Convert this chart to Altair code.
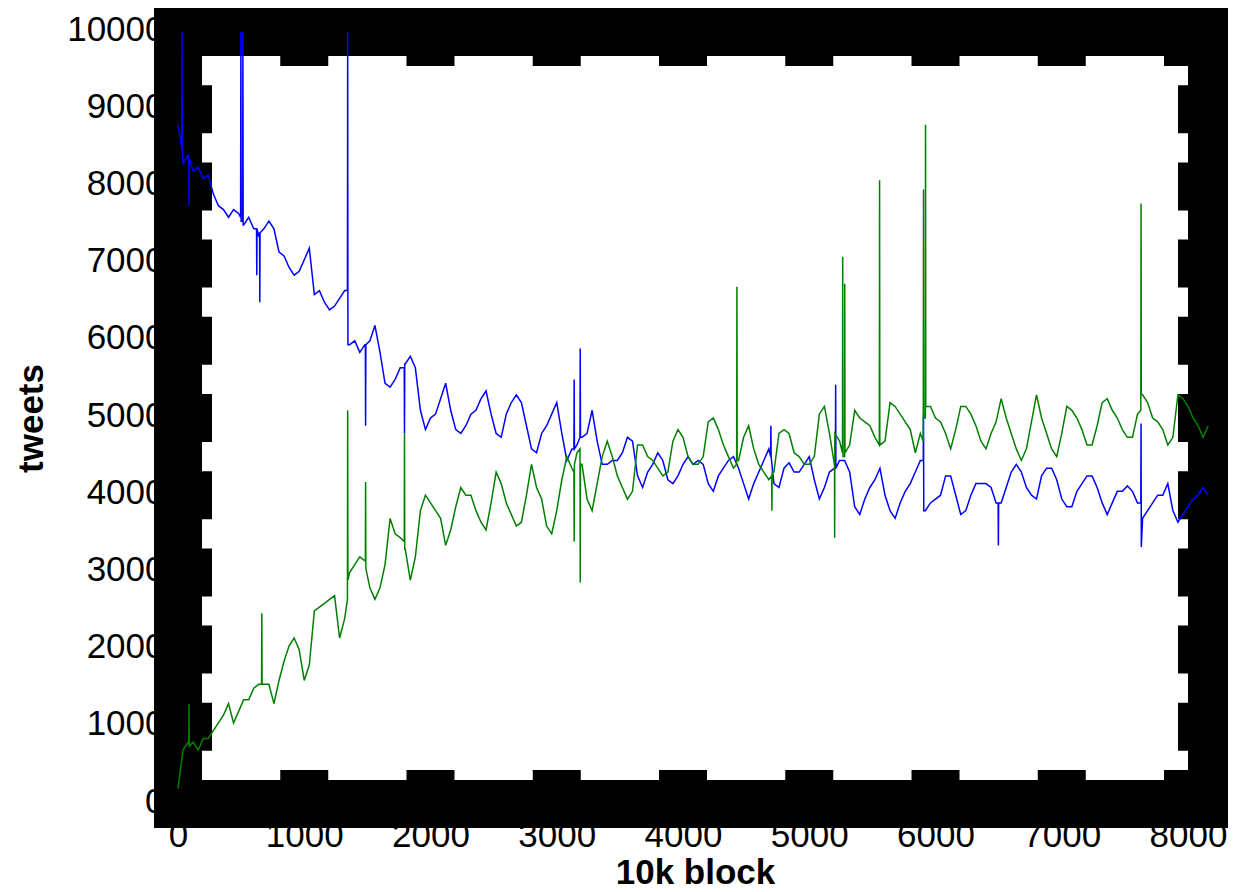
import altair as alt
import pandas as pd

# ---- data (x in "10k block", y in tweets) ----
STEP = 40  # sampling interval of the hand-read base series (blocks)

BLUE = [
    8800, 8300, 8400, 8200, 8250, 8100, 8150, 7900, 7750, 7700,
    7600, 7700, 7650, 7500, 7600, 7450, 7350, 7450, 7550, 7450,
    7150, 7100, 6950, 6850, 6900, 7050, 7200, 6600, 6650, 6500,
    6400, 6450, 6550, 6650, 5950, 6000, 5850, 5950, 6000, 6200,
    5850, 5450, 5400, 5500, 5650, 5700, 5800, 5650, 5100, 4850,
    5000, 5050, 5250, 5450, 5100, 4850, 4800, 4900, 5050, 5100,
    5250, 5350, 5050, 4800, 4750, 5050, 5200, 5300, 5200, 4900,
    4600, 4550, 4800, 4900, 5050, 5200, 4800, 4450, 4600, 4650,
    4750, 4800, 5100, 4700, 4400, 4400, 4450, 4450, 4550, 4750,
    4700, 4250, 4100, 4300, 4400, 4550, 4450, 4200, 4150, 4250,
    4400, 4500, 4400, 4450, 4400, 4150, 4050, 4250, 4350, 4450,
    4500, 4350, 4150, 3950, 4150, 4300, 4450, 4600, 4150, 4100,
    4350, 4420, 4300, 4300, 4400, 4500, 4200, 3950, 4100, 4300,
    4350, 4450, 4450, 4300, 3850, 3750, 3950, 4100, 4200, 4350,
    4000, 3800, 3700, 3900, 4050, 4150, 4300, 4450, 3800, 3900,
    3950, 4000, 4250, 4250, 4000, 3750, 3800, 4000, 4150, 4150,
    4150, 4100, 3900, 3900, 4100, 4300, 4400, 4300, 4100, 4000,
    3950, 4250, 4350, 4350, 4200, 3950, 3850, 3850, 4050, 4150,
    4250, 4250, 4100, 3900, 3750, 3900, 4050, 4050, 4120, 4050,
    3900, 3700, 3800, 3900, 4000, 4000, 4150, 3800, 3650, 3750,
    3850, 3950, 4000, 4100, 4000,
]

GREEN = [
    200, 700, 800, 800, 700, 850, 850, 950, 1050, 1150,
    1300, 1050, 1200, 1350, 1350, 1500, 1550, 1550, 1550, 1300,
    1600, 1850, 2050, 2150, 2000, 1600, 1800, 2500, 2550, 2600,
    2650, 2700, 2150, 2400, 3000, 3100, 3200, 3150, 2800, 2650,
    2800, 3100, 3700, 3500, 3450, 3300, 2900, 3200, 3800, 4000,
    3900, 3800, 3700, 3350, 3550, 3850, 4100, 4000, 4000, 3800,
    3650, 3550, 3900, 4300, 4150, 3900, 3750, 3600, 3650, 4000,
    4400, 4100, 3950, 3600, 3500, 3800, 4200, 4500, 4350, 4550,
    4400, 3950, 3800, 4150, 4500, 4700, 4500, 4250, 4100, 3950,
    4050, 4650, 4650, 4500, 4450, 4350, 4250, 4300, 4700, 4850,
    4750, 4500, 4400, 4400, 4500, 4950, 5000, 4850, 4650, 4500,
    4350, 4450, 4750, 4900, 4600, 4400, 4300, 4200, 4300, 4800,
    4850, 4800, 4550, 4500, 4400, 4400, 4500, 5050, 5150, 4800,
    4400, 4700, 4500, 4650, 5100, 5000, 4950, 4900, 4750, 4650,
    4700, 5200, 5150, 5050, 4950, 4850, 4550, 4800, 5100, 5150,
    5000, 4950, 4800, 4600, 4850, 5150, 5150, 5050, 4900, 4700,
    4600, 4800, 4950, 5250, 5000, 4800, 4600, 4450, 4600, 4950,
    5300, 5000, 4800, 4600, 4500, 4800, 5150, 5100, 5000, 4850,
    4650, 4650, 4900, 5200, 5250, 5100, 5000, 4850, 4750, 4750,
    5050, 5300, 5200, 5000, 4950, 4850, 4650, 4750, 5300, 5250,
    5150, 5000, 4900, 4750, 4900,
]

# single-block spikes: position, level just before, spike value, level just after
BLUE_SPK_X = [32, 87, 498, 514, 624, 648, 1344, 1486, 1794, 3138, 3186, 4696, 5209, 5905, 6498, 7628]
BLUE_SPK_PRE = [8500, 8350, 7600, 7550, 7450, 7400, 6650, 5950, 5650, 4600, 4750, 4500, 4350, 4450, 3900, 3900]
BLUE_SPK_VAL = [10000, 7750, 10000, 10000, 6850, 6500, 10000, 4900, 4800, 5500, 5900, 4900, 5430, 5050, 3350, 4930]
BLUE_SPK_POST = [8450, 8350, 7550, 7500, 7450, 7400, 5950, 5950, 5700, 4600, 4750, 4500, 4350, 3800, 3900, 3330]

GREEN_SPK_X = [87, 664, 1344, 1486, 1794, 3138, 3186, 4427, 4704, 5201, 5265, 5281, 5557, 5905, 5921, 7628]
GREEN_SPK_PRE = [800, 1550, 2650, 3150, 3400, 4300, 4600, 4400, 4250, 4400, 4550, 4500, 4650, 4700, 5000, 5100]
GREEN_SPK_VAL = [1300, 2470, 5100, 4170, 4800, 3400, 2870, 6700, 3800, 3450, 7090, 6740, 8080, 7960, 8800, 7780]
GREEN_SPK_POST = [750, 1550, 2900, 3050, 3300, 4400, 4400, 4450, 4300, 4800, 4500, 4550, 4700, 5000, 5150, 5300]

SERIES = ["series 1", "series 2"]
COLORS = ["#0000ff", "#008000"]

X_TICKS = [0, 1000, 2000, 3000, 4000, 5000, 6000, 7000, 8000]
Y_TICKS = [0, 1000, 2000, 3000, 4000, 5000, 6000, 7000, 8000, 9000, 10000]
X_MAX = 8190
Y_MAX = 10000

W, H = 1034, 772
TICK_LEN = 34
SPINE_W = 48
FONT = "Liberation Sans"


def build(name, vals, sx, pre, val, post):
    rows = [(i * STEP, v) for i, v in enumerate(vals)]
    for x, a, b, c in zip(sx, pre, val, post):
        rows += [(x - 2, a), (x, b), (x + 2, c)]
    d = pd.DataFrame(rows, columns=["x", "y"]).sort_values("x")
    d["s"] = name
    return d


df = pd.concat([
    build(SERIES[0], BLUE, BLUE_SPK_X, BLUE_SPK_PRE, BLUE_SPK_VAL, BLUE_SPK_POST),
    build(SERIES[1], GREEN, GREEN_SPK_X, GREEN_SPK_PRE, GREEN_SPK_VAL, GREEN_SPK_POST),
], ignore_index=True)

xs = alt.Scale(domain=[0, X_MAX], nice=False, zero=False)
ys = alt.Scale(domain=[0, Y_MAX], nice=False, zero=False)

x_axis = alt.Axis(values=X_TICKS, format="d", title="10k block", labelFont=FONT, labelFontSize=35,
                  labelColor="black", labelPadding=14, ticks=False, tickSize=0, domain=False,
                  grid=False, labelFlush=False, labelOverlap=False,
                  titleFont=FONT, titleFontSize=35, titleFontWeight="bold", titleColor="black",
                  titlePadding=2)
y_axis = alt.Axis(values=Y_TICKS, format="d", title="tweets", labelFont=FONT, labelFontSize=35,
                  labelColor="black", labelPadding=14, labelOffset=-3, ticks=False, tickSize=0,
                  domain=False, grid=False, labelFlush=False, labelOverlap=False,
                  titleFont=FONT, titleFontSize=35, titleFontWeight="bold", titleColor="black",
                  titlePadding=17)

spines = pd.DataFrame({
    "x": [0, X_MAX, 0, 0],
    "x2": [0, X_MAX, X_MAX, X_MAX],
    "y": [0, 0, 0, Y_MAX],
    "y2": [Y_MAX, Y_MAX, 0, Y_MAX],
})

spine_layer = alt.Chart(spines).mark_rule(color="black", strokeWidth=SPINE_W, strokeCap="square").encode(
    x=alt.X("x:Q", scale=xs, axis=x_axis, title="10k block"), x2="x2:Q",
    y=alt.Y("y:Q", scale=ys, axis=y_axis, title="tweets"), y2="y2:Q",
)

xt = pd.DataFrame({"v": X_TICKS})
yt = pd.DataFrame({"v": Y_TICKS})

tick_bottom = alt.Chart(xt).mark_rule(color="black", strokeWidth=SPINE_W).encode(
    x=alt.X("v:Q", scale=xs, axis=x_axis, title="10k block"), y=alt.value(H), y2=alt.value(H - TICK_LEN))
tick_top = alt.Chart(xt).mark_rule(color="black", strokeWidth=SPINE_W).encode(
    x=alt.X("v:Q", scale=xs, axis=x_axis, title="10k block"), y=alt.value(0), y2=alt.value(TICK_LEN))
tick_left = alt.Chart(yt).mark_rule(color="black", strokeWidth=SPINE_W).encode(
    y=alt.Y("v:Q", scale=ys, axis=y_axis, title="tweets"), x=alt.value(0), x2=alt.value(TICK_LEN))
tick_right = alt.Chart(yt).mark_rule(color="black", strokeWidth=SPINE_W).encode(
    y=alt.Y("v:Q", scale=ys, axis=y_axis, title="tweets"), x=alt.value(W), x2=alt.value(W - TICK_LEN))

lines = alt.Chart(df).mark_line(strokeWidth=1.5).encode(
    x=alt.X("x:Q", scale=xs, axis=x_axis, title="10k block"),
    y=alt.Y("y:Q", scale=ys, axis=y_axis, title="tweets"),
    color=alt.Color("s:N", scale=alt.Scale(domain=SERIES, range=COLORS), legend=None),
    order="x:Q",
)

chart = alt.layer(
    spine_layer, tick_bottom, tick_top, tick_left, tick_right, lines
).properties(
    width=W, height=H,
    autosize=alt.AutoSizeParams(type="none"),
    padding={"left": 170, "top": 24, "right": 16, "bottom": 88},
    background="white",
).configure_view(strokeWidth=0)

chart.save("out.html", embed_options={"renderer": "svg", "actions": False})
